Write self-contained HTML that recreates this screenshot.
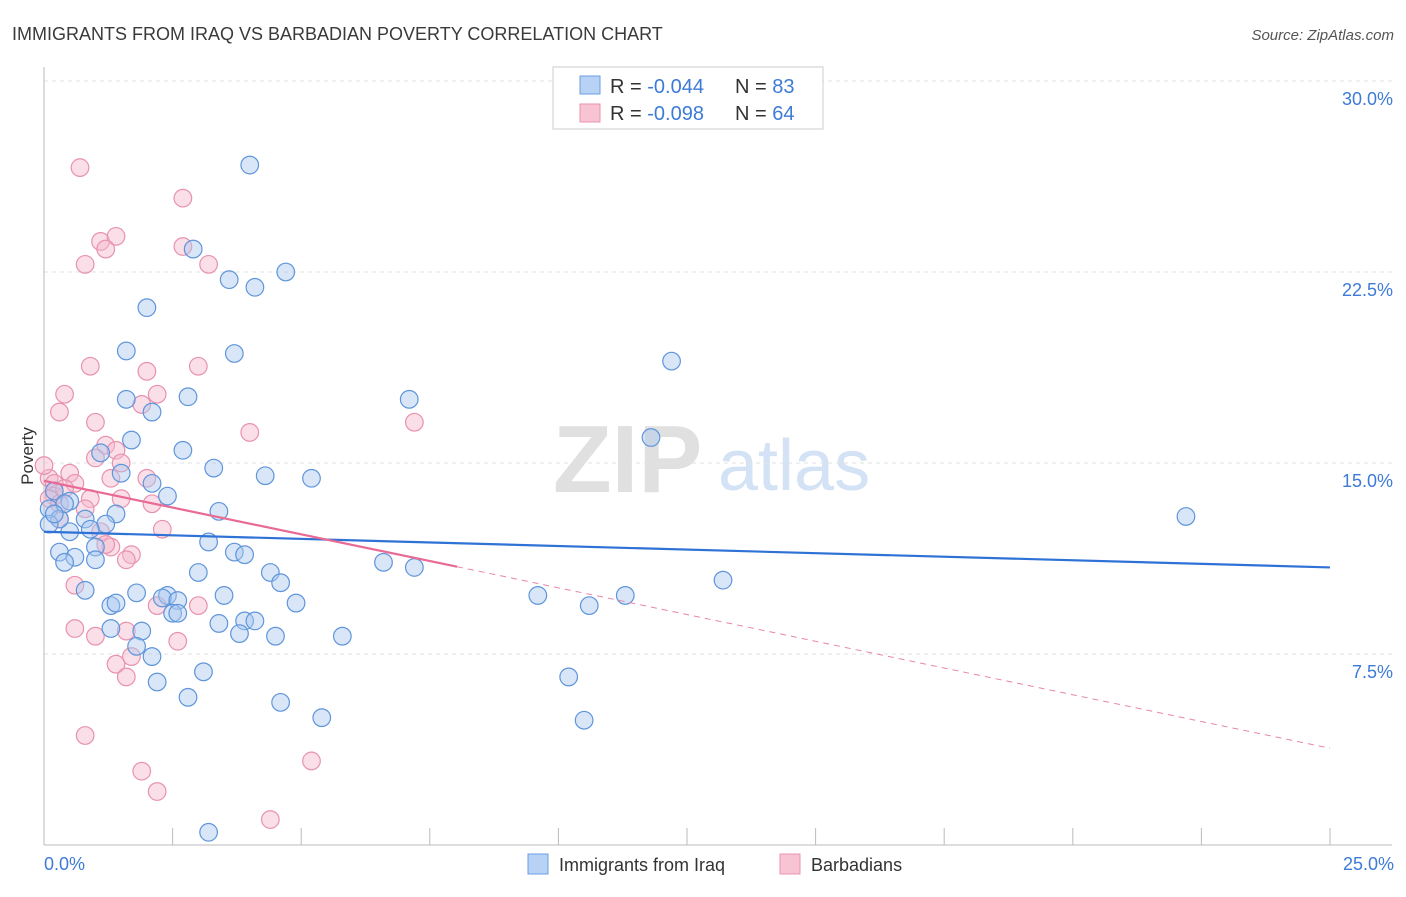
<!DOCTYPE html>
<html><head><meta charset="utf-8"><style>
body{margin:0;background:#fff;font-family:"Liberation Sans",sans-serif}
svg text{font-family:"Liberation Sans",sans-serif}
</style></head><body>
<svg width="1406" height="892" xmlns="http://www.w3.org/2000/svg">
<text x="12" y="40" font-size="18" fill="#3a3a3a">IMMIGRANTS FROM IRAQ VS BARBADIAN POVERTY CORRELATION CHART</text>
<text x="1394" y="40" font-size="15" fill="#555" text-anchor="end" font-style="italic">Source: ZipAtlas.com</text>
<text x="553" y="492" font-size="96" fill="#e0e0e0" font-family="Liberation Serif" font-weight="bold">ZIP</text>
<text x="718" y="490" font-size="72" fill="#d3e2f4">atlas</text>
<g id="grid"></g>
<g id="axes"></g>
<g id="pts"></g>
<g id="lines"></g>
<text transform="translate(33,456) rotate(-90)" font-size="17" fill="#333" text-anchor="middle">Poverty</text>
<text x="44" y="870" font-size="18" fill="#3d7bd6">0.0%</text>
<text x="1394" y="870" font-size="18" fill="#3d7bd6" text-anchor="end">25.0%</text>
<g>
<rect x="553" y="67" width="270" height="62" fill="#fff" stroke="#ccc"/>
<rect x="580" y="76" width="20" height="18" fill="#b8d2f5" stroke="#6a9ee0"/>
<rect x="580" y="104" width="20" height="18" fill="#f8c4d4" stroke="#e892ae"/>
<text x="610" y="93" font-size="20" fill="#333">R = <tspan fill="#3d7bd6">-0.044</tspan></text>
<text x="735" y="93" font-size="20" fill="#333">N = <tspan fill="#3d7bd6">83</tspan></text>
<text x="610" y="120" font-size="20" fill="#333">R = <tspan fill="#3d7bd6">-0.098</tspan></text>
<text x="735" y="120" font-size="20" fill="#333">N = <tspan fill="#3d7bd6">64</tspan></text>
</g>
<g>
<rect x="528" y="854" width="20" height="20" fill="#b8d2f5" stroke="#6a9ee0"/>
<text x="559" y="871" font-size="18" fill="#333">Immigrants from Iraq</text>
<rect x="780" y="854" width="20" height="20" fill="#f8c4d4" stroke="#e892ae"/>
<text x="811" y="871" font-size="18" fill="#333">Barbadians</text>
</g>
</svg>
<script>
const yTicks=[7.5,15,22.5,30];
const yTickLabels=["7.5%","15.0%","22.5%","30.0%"];
const xTicks=[0,2.5,5,7.5,10,12.5,15,17.5,20,22.5,25];
const iraqX=[4.0,2.9,4.7,3.6,4.1,2.0,1.6,3.7,12.2,7.1,1.6,2.8,2.1,1.7,11.8,2.7,1.1,3.3,4.3,5.2,1.5,2.1,2.4,0.2,0.5,0.1,3.4,1.4,0.8,1.2,0.9,22.2,0.5,3.2,0.3,0.6,1.0,3.7,3.9,1.0,0.4,6.6,7.2,3.0,4.4,4.6,0.8,1.8,2.4,2.3,3.5,9.6,11.3,13.2,1.3,1.4,2.6,4.9,10.6,2.5,2.6,3.4,3.9,4.1,1.3,1.9,3.8,4.5,5.8,1.8,2.1,3.1,10.2,2.2,2.8,4.6,5.4,10.5,3.2,0.3,0.1,0.4,0.2];
const iraqY=[26.7,23.4,22.5,22.2,21.9,21.1,19.4,19.3,19.0,17.5,17.5,17.6,17.0,15.9,16.0,15.5,15.4,14.8,14.5,14.4,14.6,14.2,13.7,13.9,13.5,13.2,13.1,13.0,12.8,12.6,12.4,12.9,12.3,11.9,11.5,11.3,11.7,11.5,11.4,11.2,11.1,11.1,10.9,10.7,10.7,10.3,10.0,9.9,9.8,9.7,9.8,9.8,9.8,10.4,9.4,9.5,9.6,9.5,9.4,9.1,9.1,8.7,8.8,8.8,8.5,8.4,8.3,8.2,8.2,7.8,7.4,6.8,6.6,6.4,5.8,5.6,5.0,4.9,0.5,12.8,12.6,13.4,13.0];
const barbX=[0.7,2.7,1.1,1.4,1.2,2.7,0.8,3.2,0.9,2.0,3.0,0.4,2.2,0.3,1.9,1.0,7.2,4.0,1.2,1.4,1.0,1.5,2.0,0.5,1.3,0.6,0.1,0.2,0.0,0.9,0.2,1.5,2.1,0.8,0.3,1.1,2.3,1.3,1.7,1.6,1.2,0.6,2.2,3.0,0.6,1.6,1.0,2.6,1.4,1.7,1.6,0.8,1.9,2.2,5.2,4.4,0.1,0.3,0.4];
const barbY=[26.6,25.4,23.7,23.9,23.4,23.5,22.8,22.8,18.8,18.6,18.8,17.7,17.7,17.0,17.3,16.6,16.6,16.2,15.7,15.5,15.2,15.0,14.4,14.6,14.4,14.2,14.4,14.2,14.9,13.6,13.7,13.6,13.4,13.2,12.8,12.3,12.4,11.7,11.4,11.2,11.8,10.2,9.4,9.4,8.5,8.4,8.2,8.0,7.1,7.4,6.6,4.3,2.9,2.1,3.3,1.0,13.6,13.4,14.0];
const iraqTrend=[12.3,10.9];
const barbTrend=[14.3,3.8];
const barbSolidEnd=8.03;
const NS="http://www.w3.org/2000/svg";
const X0=44,X1=1330,Y0=845,Y30=81;
const xs=v=>X0+(X1-X0)*v/25;
const ys=v=>Y0-(Y0-Y30)*v/30;
function mk(tag,attrs,parent){const e=document.createElementNS(NS,tag);for(const k in attrs)e.setAttribute(k,attrs[k]);parent.appendChild(e);return e;}
const grid=document.getElementById('grid'),axes=document.getElementById('axes'),pts=document.getElementById('pts'),lines=document.getElementById('lines');
yTicks.forEach((t,i)=>{
 const l=mk('line',{x1:X0,x2:1392,y1:ys(t),y2:ys(t),stroke:'#e2e2e2','stroke-dasharray':'4,4'},grid);
 
 
 const tx=mk('text',{x:1393,y:ys(t)+24,'font-size':18,fill:'#3d7bd6','text-anchor':'end'},grid);
 tx.textContent=yTickLabels[i];
 
 
});
const ax=mk('line',{x1:X0,x2:1392,y1:Y0,y2:Y0,stroke:'#bbb'},axes);


const ay=mk('line',{x1:X0,x2:X0,y1:67,y2:Y0,stroke:'#bbb'},axes);


xTicks.forEach(t=>{
 const l=mk('line',{x1:xs(t),x2:xs(t),y1:Y0-17,y2:Y0,stroke:'#bbb'},axes);
 
 
});
function drawPts(X,Y,fill,stroke,name){
 X.forEach((x,i)=>{
  const c=mk('circle',{cx:xs(x),cy:ys(Y[i]),r:8.8,fill:fill,'fill-opacity':0.45,stroke:stroke,'stroke-width':1.2},pts);
  
  
 });
}
drawPts(barbX,barbY,'#f4b8cb','#e892ae','barbadians-point');
drawPts(iraqX,iraqY,'#a8c8f0','#5f95db','iraq-point');
const bl=mk('line',{x1:xs(0),y1:ys(iraqTrend[0]),x2:xs(25),y2:ys(iraqTrend[1]),stroke:'#2f72d6','stroke-width':2.2},lines);


const pm=barbTrend[0]+(barbTrend[1]-barbTrend[0])*barbSolidEnd/25;
const p1=mk('line',{x1:xs(0),y1:ys(barbTrend[0]),x2:xs(barbSolidEnd),y2:ys(pm),stroke:'#e86a95','stroke-width':2.2},lines);


const p2=mk('line',{x1:xs(barbSolidEnd),y1:ys(pm),x2:xs(25),y2:ys(barbTrend[1]),stroke:'#e886a8','stroke-width':1,'stroke-dasharray':'6,5'},lines);


</script>
</body></html>
